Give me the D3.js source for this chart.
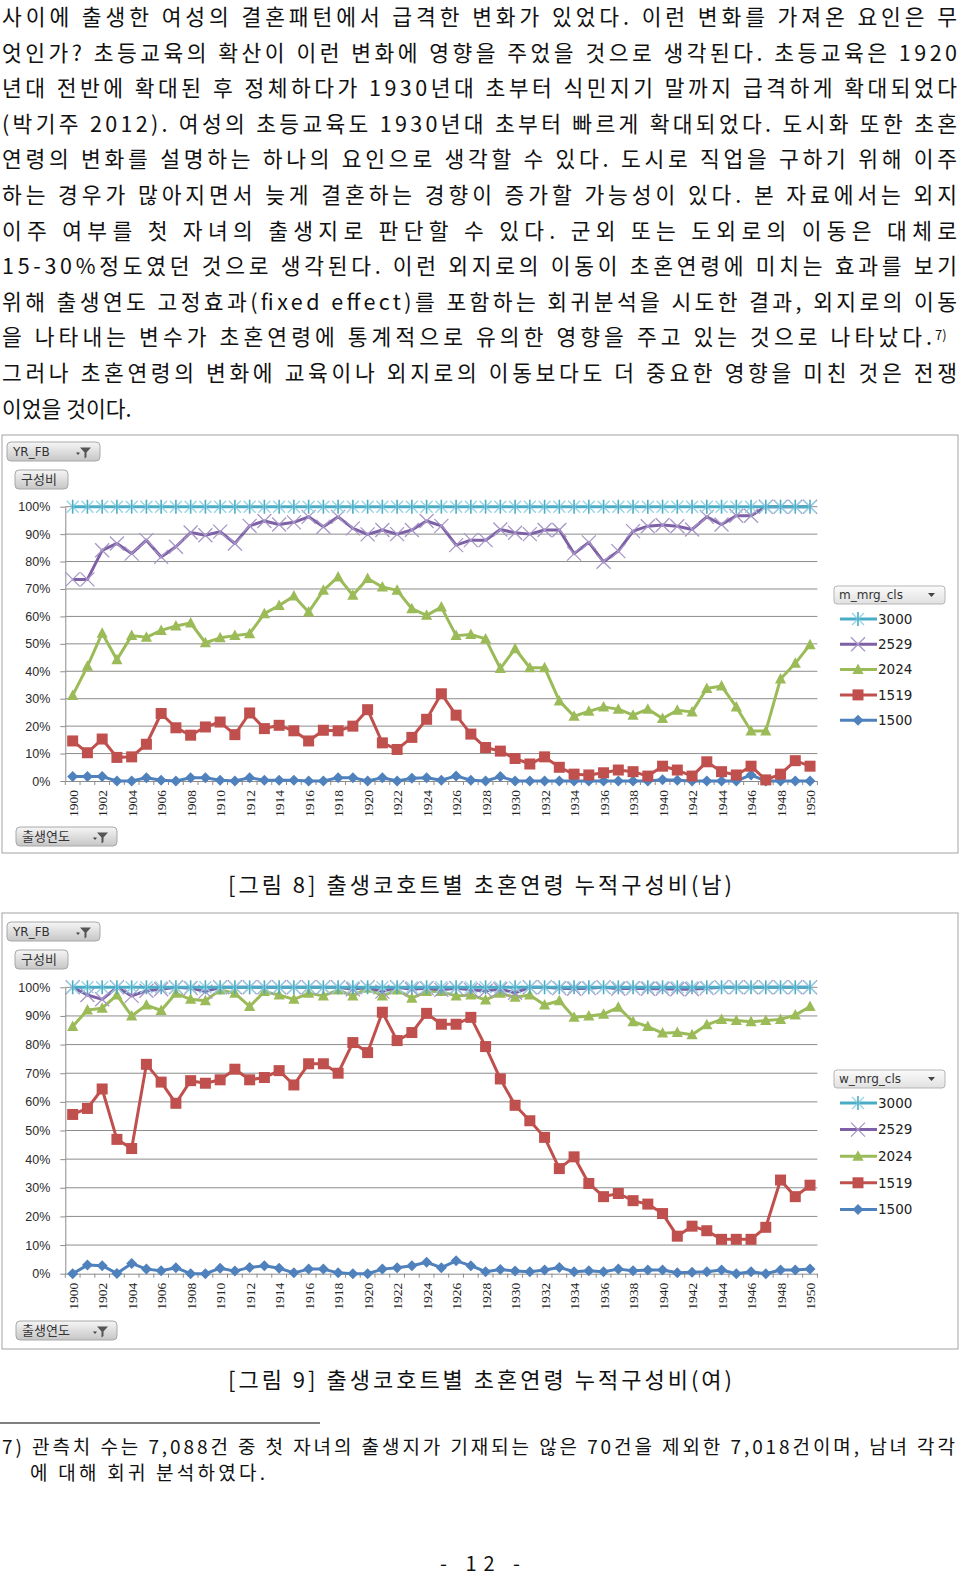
<!DOCTYPE html>
<html>
<head>
<meta charset="utf-8">
<script src="https://cdn.jsdelivr.net/npm/d3@7"></script>
<style>
  body { margin: 0; background: #fff; }
  svg { display: block; }
</style>
</head>
<body>
<script>
// ---- data ----
const years = d3.range(1900, 1951)
const yTicks = [0, 10, 20, 30, 40, 50, 60, 70, 80, 90, 100]
const xTickYears = years.filter(y => y % 2 === 0)
const seriesKeys = ['3000', '2529', '2024', '1519', '1500']

// [그림 8] 남
const m3000 = [100,100,100,100,100,100,100,100,100,100, 100,100,100,100,100,100,100,100,100,100,
  100,100,100,100,100,100,100,100,100,100, 100,100,100,100,100,100,100,100,100,100,
  100,100,100,100,100,100,100,100,100,100, 100]
const m2529 = [73.5,73.5,84.1,86.6,82.9,87.8,81.7,85.4,90.6,89.6, 90.9,86.6,93.0,94.8,93.5,94.3,96.3,92.7,96.3,92.1,
  89.9,91.5,90.0,91.5,94.8,93.0,86.0,87.8,87.8,91.7, 90.5,90.0,91.5,91.5,82.9,87.0,79.9,83.8,91.1,92.9,
  93.3,92.9,91.7,96.3,93.5,96.7,96.7,100,100,100, 100]
const m2024 = [31.2,41.8,53.9,44.2,53.0,52.4,54.9,56.5,57.6,50.4, 52.2,53.0,53.7,61.0,64.0,67.4,61.6,69.5,74.4,67.7,
  73.8,70.7,69.5,62.8,60.4,63.4,53.0,53.4,51.8,41.0, 48.2,41.3,41.3,29.2,23.6,25.4,27.0,26.2,24.0,26.2,
  22.8,25.8,25.2,33.7,34.6,27.0,18.2,18.2,37.2,42.9, 49.7]
const m1519 = [14.6,10.3,15.3,8.6,8.8,13.4,24.6,19.4,16.7,19.7, 21.5,16.9,24.8,19.1,20.3,18.3,14.6,18.5,18.3,20.0,
  26.0,13.9,11.5,15.9,22.5,31.8,24.0,17.1,12.2,10.9, 8.2,6.2,8.8,5.0,2.5,2.2,3.0,4.0,3.4,1.8,
  5.4,4.0,1.8,7.0,3.4,2.2,5.4,0.4,2.5,7.4, 5.4]
const m1500 = [1.6,1.6,1.6,0,0,1.2,0.3,0,1.2,1.2, 0.3,0,1.2,0.3,0.3,0.3,0,0,1.2,1.2,
  0,1.2,0,1.0,1.2,0.3,1.8,0.3,0,1.6, 0,0,0,0,0,0,0,0,0,0,
  0.5,0.3,0,0,0,0,2.2,0,0,0, 0]

// [그림 9] 여
const f3000 = [100,100,100,100,100,100,100,100,100,100, 100,100,100,100,100,100,100,100,100,100,
  100,100,100,100,100,100,100,100,100,100, 100,100,100,100,100,100,100,100,100,100,
  100,100,100,100,100,100,100,100,100,100, 100]
const f2529 = [100,97.3,95.8,100,97.0,98.8,99.3,100,99.7,98.5, 100,100,100,100,100,100,100,100,100,99.3,
  100,98.5,100,99.3,99.7,99.1,99.7,99.1,98.8,99.3, 98.1,100,100,99.7,99.5,99.7,100,99.5,99.7,99.5,
  99.5,99.3,99.3,99.7,100,100,100,100,100,100, 100]
const f2024 = [86.3,92.1,92.7,97.3,90.0,93.8,91.9,97.9,95.8,95.3, 99.1,97.9,93.3,98.5,97.3,95.8,97.9,97.0,99.1,97.0,
  99.7,97.0,99.1,96.2,98.5,98.5,97.0,97.3,95.6,97.9, 96.5,97.3,93.8,95.3,89.5,90.0,90.6,93.0,88.0,86.3,
  84.0,84.2,83.4,86.9,88.8,88.4,88.0,88.4,88.8,90.3, 93.3]
const f1519 = [55.6,57.7,64.5,46.9,43.7,73.1,66.9,59.5,67.4,66.5, 67.7,71.4,67.7,68.5,70.9,65.9,73.3,73.3,70.0,80.7,
  77.2,91.3,81.4,84.2,90.9,87.1,87.1,89.5,79.3,68.0, 58.8,53.4,47.6,36.7,40.8,31.5,26.9,28.0,25.5,24.3,
  21.0,13.1,16.6,15.0,12.0,12.0,12.0,16.2,32.7,26.9, 30.9]
const f1500 = [0,3.0,2.8,0.1,3.6,1.6,1.0,2.1,0,0, 1.9,0.9,2.2,2.8,1.9,0.3,1.6,1.6,0.3,0,
  0,1.6,2.1,2.8,4.0,2.1,4.5,2.8,0.7,1.5, 0.9,0.7,1.3,2.2,0.7,1.0,0.7,1.6,1.0,1.3,
  1.3,0.3,0.5,0.7,1.3,0,0.7,0,1.3,1.3, 1.6]

const bodyLines = [
  '사이에 출생한 여성의 결혼패턴에서 급격한 변화가 있었다. 이런 변화를 가져온 요인은 무',
  '엇인가? 초등교육의 확산이 이런 변화에 영향을 주었을 것으로 생각된다. 초등교육은 1920',
  '년대 전반에 확대된 후 정체하다가 1930년대 초부터 식민지기 말까지 급격하게 확대되었다',
  '(박기주 2012). 여성의 초등교육도 1930년대 초부터 빠르게 확대되었다. 도시화 또한 초혼',
  '연령의 변화를 설명하는 하나의 요인으로 생각할 수 있다. 도시로 직업을 구하기 위해 이주',
  '하는 경우가 많아지면서 늦게 결혼하는 경향이 증가할 가능성이 있다. 본 자료에서는 외지',
  '이주 여부를 첫 자녀의 출생지로 판단할 수 있다. 군외 또는 도외로의 이동은 대체로',
  '15-30%정도였던 것으로 생각된다. 이런 외지로의 이동이 초혼연령에 미치는 효과를 보기',
  '위해 출생연도 고정효과(fixed effect)를 포함하는 회귀분석을 시도한 결과, 외지로의 이동',
  '을 나타내는 변수가 초혼연령에 통계적으로 유의한 영향을 주고 있는 것으로 나타났다.',
  '그러나 초혼연령의 변화에 교육이나 외지로의 이동보다도 더 중요한 영향을 미친 것은 전쟁',
  '이었을 것이다.'
]
const footLines = [
  '7) 관측치 수는 7,088건 중 첫 자녀의 출생지가 기재되는 않은 70건을 제외한 7,018건이며, 남녀 각각',
  '에 대해 회귀 분석하였다.'
]

// ---- styles ----
const colors = { '3000': '#4bacc6', '2529': '#7d60a6', '2024': '#9bbb59', '1519': '#c0504d', '1500': '#4f81bd' }
const drawOrder = ['1500', '1519', '2024', '2529', '3000']
const KR = '"Noto Sans CJK KR", sans-serif'
const plotL = 65.3, plotR = 817.4

const svg = d3.select('body').append('svg').attr('width', 960).attr('height', 1578)

const defs = svg.append('defs')
const grad = defs.append('linearGradient').attr('id', 'btn').attr('x1', 0).attr('y1', 0).attr('x2', 0).attr('y2', 1)
grad.append('stop').attr('offset', '0%').attr('stop-color', '#f6f6f6')
grad.append('stop').attr('offset', '100%').attr('stop-color', '#c6c6c6')
const grad2 = defs.append('linearGradient').attr('id', 'drop').attr('x1', 0).attr('y1', 0).attr('x2', 0).attr('y2', 1)
grad2.append('stop').attr('offset', '0%').attr('stop-color', '#fbfbfb')
grad2.append('stop').attr('offset', '100%').attr('stop-color', '#e0e0e0')

// ---- body text ----
const lineTop = 25, lineStep = 35.6
svg.append('g').selectAll('text').data(bodyLines).join('text')
  .attr('x', 2)
  .attr('y', (d, i) => lineTop + i * lineStep)
  .attr('font-family', KR).attr('font-size', 21.5).attr('fill', '#111')
  .each(function(d, i) {
    if (i === bodyLines.length - 1) return
    d3.select(this).attr('textLength', i === 9 ? 930 : 955).attr('lengthAdjust', 'spacing')
  })
  .text(d => d)
svg.append('text').attr('x', 935).attr('y', lineTop + 9 * lineStep - 5)
  .attr('font-family', KR).attr('font-size', 13).attr('fill', '#111').text('7)')

// ---- marker helpers ----
function drawMarker(sel, key, color) {
  if (key === '3000') {
    sel.append('path').attr('d', 'M-6,-6L6,6M-6,6L6,-6').attr('stroke', '#93d3e3').attr('stroke-width', 1.3).attr('fill', 'none')
    sel.append('path').attr('d', 'M0,-7L0,7').attr('stroke', color).attr('stroke-width', 1.6)
  } else if (key === '2529') {
    sel.append('path').attr('d', 'M-7,-7L7,7M-7,7L7,-7').attr('stroke', '#a897c7').attr('stroke-width', 1.3).attr('fill', 'none')
  } else if (key === '2024') {
    sel.append('path').attr('d', 'M0,-6L5.6,4.5L-5.6,4.5Z').attr('fill', color)
  } else if (key === '1519') {
    sel.append('rect').attr('x', -5.5).attr('y', -5.5).attr('width', 11).attr('height', 11).attr('fill', color)
  } else {
    sel.append('path').attr('d', 'M0,-5.5L5.5,0L0,5.5L-5.5,0Z').attr('fill', color)
  }
}

function funnel(g, x, y) {
  g.append('path').attr('d', `M${x},${y + 1}h4l-2,2.5z`).attr('fill', '#444')
  g.append('path').attr('d', `M${x + 4},${y - 4}h11l-4.5,5v4.5l-2,1.5v-6z`).attr('fill', '#555')
}

function button(g, x, y, w, h, label, font, size, icon) {
  g.append('rect').attr('x', x).attr('y', y).attr('width', w).attr('height', h)
    .attr('rx', 4).attr('fill', 'url(#btn)').attr('stroke', '#a8a8a8')
  g.append('text').attr('x', x + 6).attr('y', y + h / 2).attr('dy', '0.36em')
    .attr('font-family', font).attr('font-size', size).attr('fill', '#333').text(label)
  if (icon) funnel(g, x + w - 24, y + h / 2)
}

// ---- chart ----
function drawChart(cfg) {
  const g = svg.append('g')
  g.append('rect').attr('x', cfg.box[0]).attr('y', cfg.box[1]).attr('width', cfg.box[2]).attr('height', cfg.box[3])
    .attr('fill', '#fff').attr('stroke', '#a4a4a4')

  const x = d3.scalePoint().domain(years).range([plotL, plotR]).padding(0.5)
  const y = d3.scaleLinear().domain([0, 100]).range([cfg.y0, cfg.y100])

  // gridlines
  g.append('g').selectAll('line').data(yTicks.filter(d => d > 0)).join('line')
    .attr('x1', plotL).attr('x2', plotR).attr('y1', d => y(d)).attr('y2', d => y(d))
    .attr('stroke', '#8c8c8c')

  // y axis
  const ya = g.append('g').attr('transform', `translate(${plotL},0)`)
    .call(d3.axisLeft(y).tickValues(yTicks).tickFormat(d => d + '%').tickSize(5).tickSizeOuter(0).tickPadding(10))
  ya.select('.domain').attr('stroke', '#8c8c8c')
  ya.selectAll('.tick line').attr('stroke', '#8c8c8c')
  ya.selectAll('.tick text').attr('font-family', '"Liberation Sans", Arial, sans-serif')
    .attr('font-size', 12.5).attr('fill', '#2a2a2a')

  // x axis
  const xa = g.append('g').attr('transform', `translate(0,${cfg.y0})`)
    .call(d3.axisBottom(x).tickValues(xTickYears).tickSize(0).tickSizeOuter(0))
  xa.select('.domain').attr('stroke', '#8c8c8c')
  xa.selectAll('.tick text')
    .attr('transform', 'rotate(-90)').attr('x', -9).attr('y', 0).attr('dy', '0.35em')
    .attr('text-anchor', 'end')
    .attr('font-family', '"Liberation Serif", serif').attr('font-size', 13.5).attr('fill', '#222')
  const bounds = years.map(d => x(d) - x.step() / 2).concat([x(years[years.length - 1]) + x.step() / 2])
  g.append('g').selectAll('line').data(bounds).join('line')
    .attr('x1', d => d).attr('x2', d => d).attr('y1', cfg.y0).attr('y2', cfg.y0 + 4)
    .attr('stroke', '#8c8c8c')

  // series
  const line = d3.line().x(d => x(d.year)).y(d => y(d.v))
  drawOrder.forEach(key => {
    const pts = years.map((yr, i) => ({ year: yr, v: cfg.data[key][i] }))
    const s = g.append('g')
    s.append('path').datum(pts).attr('d', line).attr('fill', 'none')
      .attr('stroke', colors[key]).attr('stroke-width', 3).attr('stroke-linejoin', 'round')
    s.selectAll('g').data(pts).join('g')
      .attr('transform', d => `translate(${x(d.year)},${y(d.v)})`)
      .each(function() { drawMarker(d3.select(this), key, colors[key]) })
  })

  // pivot buttons
  button(g, 7, cfg.btnY, 93, 19, 'YR_FB', '"DejaVu Sans", sans-serif', 12, true)
  button(g, 15, cfg.btnY + 28, 53, 19, '구성비', KR, 13, false)
  button(g, 16, cfg.btn2Y, 101, 19, '출생연도', KR, 13, true)

  // legend
  const lg = g.append('g')
  lg.append('rect').attr('x', 834).attr('y', cfg.legY - 9).attr('width', 111).attr('height', 18)
    .attr('rx', 3).attr('fill', 'url(#drop)').attr('stroke', '#b5b5b5')
  lg.append('text').attr('x', 839).attr('y', cfg.legY).attr('dy', '0.35em')
    .attr('font-family', '"DejaVu Sans", sans-serif').attr('font-size', 12).attr('fill', '#333').text(cfg.legTitle)
  lg.append('path').attr('d', `M928,${cfg.legY - 2}h7l-3.5,4z`).attr('fill', '#444')
  seriesKeys.forEach((key, i) => {
    const ly = cfg.legItemY + i * cfg.legStep
    const it = lg.append('g')
    it.append('line').attr('x1', 840).attr('x2', 877).attr('y1', ly).attr('y2', ly)
      .attr('stroke', colors[key]).attr('stroke-width', 3)
    drawMarker(it.append('g').attr('transform', `translate(858,${ly})`), key, colors[key])
    it.append('text').attr('x', 878).attr('y', ly).attr('dy', '0.36em')
      .attr('font-family', '"DejaVu Sans", sans-serif').attr('font-size', 13.5).attr('fill', '#222').text(key)
  })
}

drawChart({
  box: [2, 435, 956, 418], y0: 781, y100: 506.7,
  btnY: 442, btn2Y: 827,
  legTitle: 'm_mrg_cls', legY: 595, legItemY: 619, legStep: 25.3,
  data: { '3000': m3000, '2529': m2529, '2024': m2024, '1519': m1519, '1500': m1500 }
})
drawChart({
  box: [2, 913, 956, 436], y0: 1273.7, y100: 987.3,
  btnY: 922, btn2Y: 1321,
  legTitle: 'w_mrg_cls', legY: 1079, legItemY: 1103, legStep: 26.6,
  data: { '3000': f3000, '2529': f2529, '2024': f2024, '1519': f1519, '1500': f1500 }
})

// ---- captions ----
svg.append('text').attr('x', 480).attr('y', 893).attr('text-anchor', 'middle')
  .attr('font-family', KR).attr('font-size', 22).attr('fill', '#111')
  .attr('textLength', 504).attr('lengthAdjust', 'spacing')
  .text('[그림 8] 출생코호트별 초혼연령 누적구성비(남)')
svg.append('text').attr('x', 480).attr('y', 1388).attr('text-anchor', 'middle')
  .attr('font-family', KR).attr('font-size', 22).attr('fill', '#111')
  .attr('textLength', 504).attr('lengthAdjust', 'spacing')
  .text('[그림 9] 출생코호트별 초혼연령 누적구성비(여)')

// ---- footnote ----
svg.append('line').attr('x1', 0).attr('x2', 320).attr('y1', 1423).attr('y2', 1423)
  .attr('stroke', '#555').attr('stroke-width', 1.5)
svg.append('text').attr('x', 2).attr('y', 1454)
  .attr('font-family', KR).attr('font-size', 19).attr('fill', '#111')
  .attr('textLength', 953).attr('lengthAdjust', 'spacing').text(footLines[0])
svg.append('text').attr('x', 30).attr('y', 1480)
  .attr('font-family', KR).attr('font-size', 19).attr('fill', '#111')
  .attr('textLength', 235).attr('lengthAdjust', 'spacing').text(footLines[1])

svg.append('text').attr('x', 480).attr('y', 1571).attr('text-anchor', 'middle')
  .attr('font-family', KR).attr('font-size', 20).attr('fill', '#111')
  .attr('textLength', 80).attr('lengthAdjust', 'spacing').text('- 12 -')
</script>
</body>
</html>
